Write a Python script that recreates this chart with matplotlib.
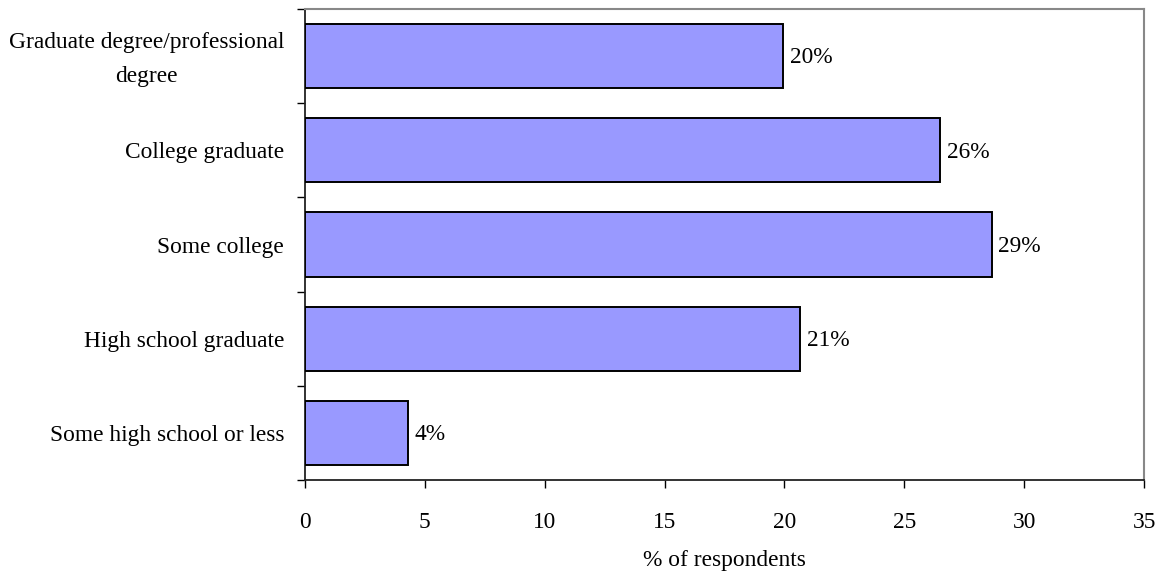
import matplotlib
matplotlib.use("Agg")
import matplotlib.pyplot as plt
import matplotlib.transforms as mtransforms
from matplotlib.ticker import FixedLocator

plt.rcParams['font.family'] = ['Liberation Serif', 'DejaVu Serif']

categories = [
    "Some high school or less",
    "High school graduate",
    "Some college",
    "College graduate",
    "Graduate degree/professional\ndegree",
]
values = [4.3, 20.65, 28.65, 26.5, 19.95]
labels = ["4%", "21%", "29%", "26%", "20%"]
x_ticks = [0, 5, 10, 15, 20, 25, 30, 35]

FS = 16.8

fig = plt.figure(figsize=(11.7, 5.8), dpi=100)
ax = fig.add_axes([305 / 1170, 1 - 480 / 580, (1144 - 305) / 1170, (480 - 9) / 580])

pos = list(range(len(categories)))
ax.barh(pos, values, height=0.68, color="#9999FF", edgecolor="black", linewidth=1.4, zorder=3)

for p, v, t in zip(pos, values, labels):
    ax.text(v + 0.28, p - 0.02, t, va="center", ha="left", fontsize=FS)

ax.set_xlim(0, 35)
ax.set_ylim(-0.5, len(categories) - 0.5)
ax.set_xticks(x_ticks)
ax.set_xticklabels([str(t) for t in x_ticks], fontsize=FS)
ax.set_yticks(pos)
ax.set_yticklabels(categories, fontsize=FS, multialignment="center", linespacing=1.8)
ax.yaxis.set_minor_locator(FixedLocator([i - 0.5 for i in range(len(categories) + 1)]))
ax.tick_params(axis="y", which="major", length=0, pad=15)
ax.tick_params(axis="y", which="minor", length=6, width=1, direction="out")
ax.tick_params(axis="x", which="major", length=6, width=1, direction="out", pad=17)

# lift the two-line category label so its block sits centred on the bar
for lbl in ax.get_yticklabels():
    if "\n" in lbl.get_text():
        lbl.set_transform(lbl.get_transform() +
                          mtransforms.ScaledTranslation(0, 4 / 72, fig.dpi_scale_trans))

ax.set_xlabel("% of respondents", fontsize=FS, labelpad=12)

for side in ("left", "bottom"):
    ax.spines[side].set_color("#222222")
    ax.spines[side].set_linewidth(1.3)
for side in ("top", "right"):
    ax.spines[side].set_color("#888888")
    ax.spines[side].set_linewidth(1.5)

fig.savefig("out.png", dpi=100)
